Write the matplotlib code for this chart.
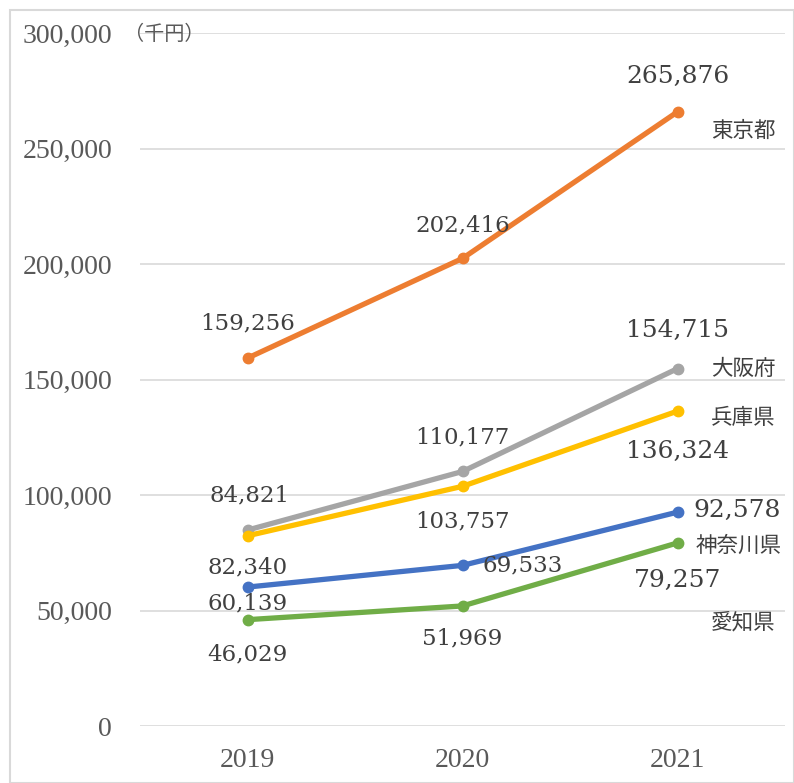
import matplotlib
matplotlib.use("Agg")
import matplotlib.pyplot as plt
from matplotlib.patches import Rectangle

years = ["2019", "2020", "2021"]
prefectures = ["東京都", "大阪府", "兵庫県", "神奈川県", "愛知県"]
tokyo = [159256, 202416, 265876]
osaka = [84821, 110177, 154715]
hyogo = [82340, 103757, 136324]
kanagawa = [60139, 69533, 92578]
aichi = [46029, 51969, 79257]
series = [tokyo, osaka, hyogo, kanagawa, aichi]
colors = ["#ED7D31", "#A5A5A5", "#FFC000", "#4472C4", "#70AD47"]
yticks = [0, 50000, 100000, 150000, 200000, 250000, 300000]
unit_label = "（千円）"

W, H = 794, 783
fig = plt.figure(figsize=(W / 100, H / 100), dpi=100)
ax = fig.add_axes([140 / W, 1 - 726 / H, 645 / W, 693 / H])

x = list(range(len(years)))
for vals, c in zip(series, colors):
    ax.plot(x, vals, color=c, lw=3.8, marker="o", ms=7.5, solid_capstyle="round", zorder=3)

ax.set_xlim(-0.5, 2.5)
ax.set_ylim(0, 300000)
ax.set_yticks(yticks)
ax.set_yticklabels([f"{v:,}" for v in yticks])
ax.set_xticks(x)
ax.set_xticklabels(years)
for s in ax.spines.values():
    s.set_visible(False)
ax.grid(axis="y", color="#D9D9D9", lw=1.2)
ax.set_axisbelow(True)
ax.tick_params(axis="y", length=0, pad=20, labelsize=20, labelcolor="#595959")
ax.tick_params(axis="x", length=0, pad=16, labelsize=20, labelcolor="#595959")
for lab in ax.get_yticklabels() + ax.get_xticklabels():
    lab.set_family(["Liberation Serif", "DejaVu Serif"])

# data label offsets in pixels (dx, dy) per series per year
offsets = [
    [(0, 35), (0, 33), (0, 35)],
    [(2, 35), (0, 34), (0, 38)],
    [(0, -32), (0, -35), (0, -40)],
    [(0, -16), (60, 0), (60, 2)],
    [(0, -35), (0, -32), (0, -38)],
]
for vals, offs in zip(series, offsets):
    for i, (v, (dx, dy)) in enumerate(zip(vals, offs)):
        ax.annotate(f"{v:,}", (i, v), xytext=(dx, dy), textcoords="offset pixels",
                    ha="center", va="center", fontsize=18 if i == 2 else 16.5,
                    color="#404040", family=["DejaVu Serif"], zorder=5)

# series name labels at right
name_pos = [(743, 131), (743, 369), (743, 418), (739, 546), (743, 622)]
for name, (px, py) in zip(prefectures, name_pos):
    fig.text(px / W, 1 - py / H, name, ha="center", va="center", fontsize=15.5,
             color="#404040", family=["Noto Sans CJK JP", "DejaVu Sans"])

fig.text(124 / W, 1 - 34 / H, unit_label, ha="left", va="center", fontsize=14.5,
         color="#595959", family=["Noto Sans CJK JP", "DejaVu Sans"])

fig.patches.append(Rectangle((10 / W, 0), (W - 10) / W, 1 - 10 / H, transform=fig.transFigure,
                             fill=False, edgecolor="#D9D9D9", lw=1.5))

fig.savefig("out.png", dpi=100, facecolor="white")
